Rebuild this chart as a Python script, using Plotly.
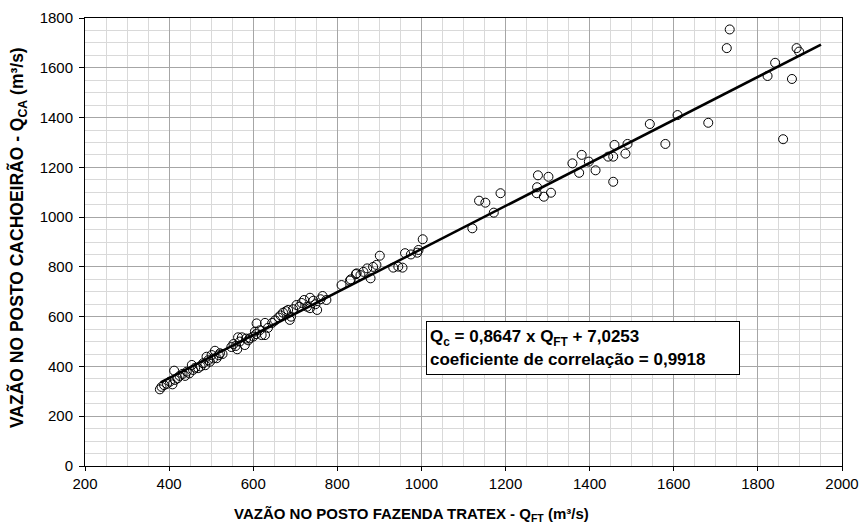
import numpy as np
import plotly.graph_objects as go

# Vazões observadas (m³/s): Fazenda Tratex (x) e Cachoeirão (y)
q_ft = [378, 382, 388, 395, 402, 408, 414, 412, 420, 425, 432, 438, 442, 448, 454, 457,
        462, 469, 475, 481, 486, 489, 493, 497, 501, 505, 509, 513, 518, 521, 527,
        548, 553, 558, 562, 564, 568, 573, 580, 583, 588, 592, 600, 604, 607, 608, 615,
        620, 628, 628, 635,
        645, 652, 660, 665, 671, 678, 683, 687, 690, 695, 703, 710, 715, 721, 728, 735,
        735, 743, 748, 752, 760, 765, 774,
        810, 830, 832, 844, 846, 855, 862, 871, 879, 885, 893, 901, 933, 945, 955, 961,
        975, 990, 993, 1003,
        1121, 1137, 1152, 1172, 1188, 1274, 1275, 1277, 1291, 1302, 1308, 1359, 1375,
        1381, 1398, 1414, 1444, 1456, 1456, 1459, 1485, 1490, 1543, 1580, 1609, 1682,
        1726, 1733, 1823, 1841, 1860, 1881, 1892, 1898]
q_ca = [308, 318, 325, 330, 339, 328, 346, 383, 352, 362, 370, 362, 379, 372, 406, 386,
        395, 393, 400, 413, 405, 439, 425, 419, 446, 432, 463, 433, 445, 453, 450,
        478, 490, 482, 469, 517, 500, 517, 486, 512, 505, 513, 520, 540, 530, 573, 545,
        526, 526, 575, 555,
        575, 585, 597, 605, 616, 622, 627, 587, 600, 630, 647, 640, 655, 667, 640, 634,
        676, 664, 650, 627, 670, 683, 667,
        727, 745, 750, 771, 774, 767, 780, 794, 754, 800, 808, 845, 797, 801, 797, 855,
        850, 857, 868, 911,
        955, 1066, 1058, 1018, 1096, 1096, 1120, 1168, 1082, 1162, 1098, 1216, 1178,
        1250, 1223, 1188, 1243, 1243, 1142, 1290, 1255, 1294, 1374, 1294, 1410, 1379,
        1679, 1754, 1567, 1620, 1313, 1555, 1679, 1665]

# Reta de regressão: Qc = a * Qft + b
coef_a = 0.8647
coef_b = 7.0253
coef_r = 0.9918
fit_range = [380, 1950]

x_ticks = list(range(200, 2001, 200))
y_ticks = list(range(0, 1801, 200))

FONT = "Liberation Sans, Arial, sans-serif"
W, H = 859, 527
ML, MR, MT, MB = 85, 17, 18, 61
PW, PH = W - ML - MR, H - MT - MB

fit_x = np.array(fit_range, dtype=float)
fit_y = coef_a * fit_x + coef_b

fig = go.Figure()
fig.add_trace(go.Scatter(
    x=q_ft, y=q_ca, mode="markers",
    marker=dict(symbol="circle", size=9, color="rgba(255,255,255,0)",
                line=dict(color="black", width=1)),
    showlegend=False, hoverinfo="x+y"))
fig.add_trace(go.Scatter(
    x=fit_x, y=fit_y, mode="lines",
    line=dict(color="black", width=2.5), showlegend=False))

axis_common = dict(
    showline=True, linecolor="black", linewidth=1, mirror=True,
    ticks="outside", tickcolor="black",
    showgrid=True, gridcolor="#a6a6a6", gridwidth=1,
    zeroline=False, automargin=False,
    tickfont=dict(family=FONT, size=15, color="black"),
)

fig.update_xaxes(
    range=[200, 2000], tickvals=x_ticks, ticktext=[str(v) for v in x_ticks],
    ticklen=4,
    minor=dict(dtick=50, showgrid=True, gridcolor="#d9d9d9", gridwidth=1, ticks=""),
    **axis_common)
fig.update_yaxes(
    range=[0, 1800], tickvals=y_ticks, ticktext=[str(v) for v in y_ticks],
    ticklen=5, ticklabelstandoff=3,
    minor=dict(dtick=50, showgrid=True, gridcolor="#d9d9d9", gridwidth=1, ticks=""),
    **axis_common)

# Títulos dos eixos (posições em pixels convertidas para coordenadas "paper")
fig.add_annotation(
    x=(411 - ML) / PW, y=-(MB - 1) / PH, xref="paper", yref="paper",
    xanchor="center", yanchor="bottom",
    text="<b>VAZÃO NO POSTO FAZENDA TRATEX - Q<sub>FT</sub> (m³/s)</b>",
    showarrow=False, font=dict(family=FONT, size=15, color="black"))
fig.add_annotation(
    x=(18 - ML) / PW, y=(H - MB - 238) / PH, xref="paper", yref="paper",
    xanchor="center", yanchor="middle", textangle=-90,
    text="<b>VAZÃO NO POSTO CACHOEIRÃO - Q<sub>CA</sub> (m³/s)</b>",
    showarrow=False, font=dict(family=FONT, size=17.5, color="black"))

# Caixa com a equação da reta e o coeficiente de correlação
eq_text = ("<b>Q<sub>c</sub> = {:.4f} x Q<sub>FT</sub> + {:.4f}<br>"
           "coeficiente de correlação = {:.4f}</b>").format(coef_a, coef_b, coef_r).replace(".", ",")
fig.add_annotation(
    x=1011, y=583, xref="x", yref="y", xanchor="left", yanchor="top",
    text=eq_text, showarrow=False, align="left", width=306, height=46,
    font=dict(family=FONT, size=17, color="black"),
    bgcolor="white", bordercolor="black", borderwidth=1, borderpad=3)

fig.update_layout(
    width=W, height=H,
    margin=dict(l=ML, r=MR, t=MT, b=MB),
    paper_bgcolor="white", plot_bgcolor="white",
    font=dict(family=FONT, color="black"),
)

fig.write_html("out.html")
